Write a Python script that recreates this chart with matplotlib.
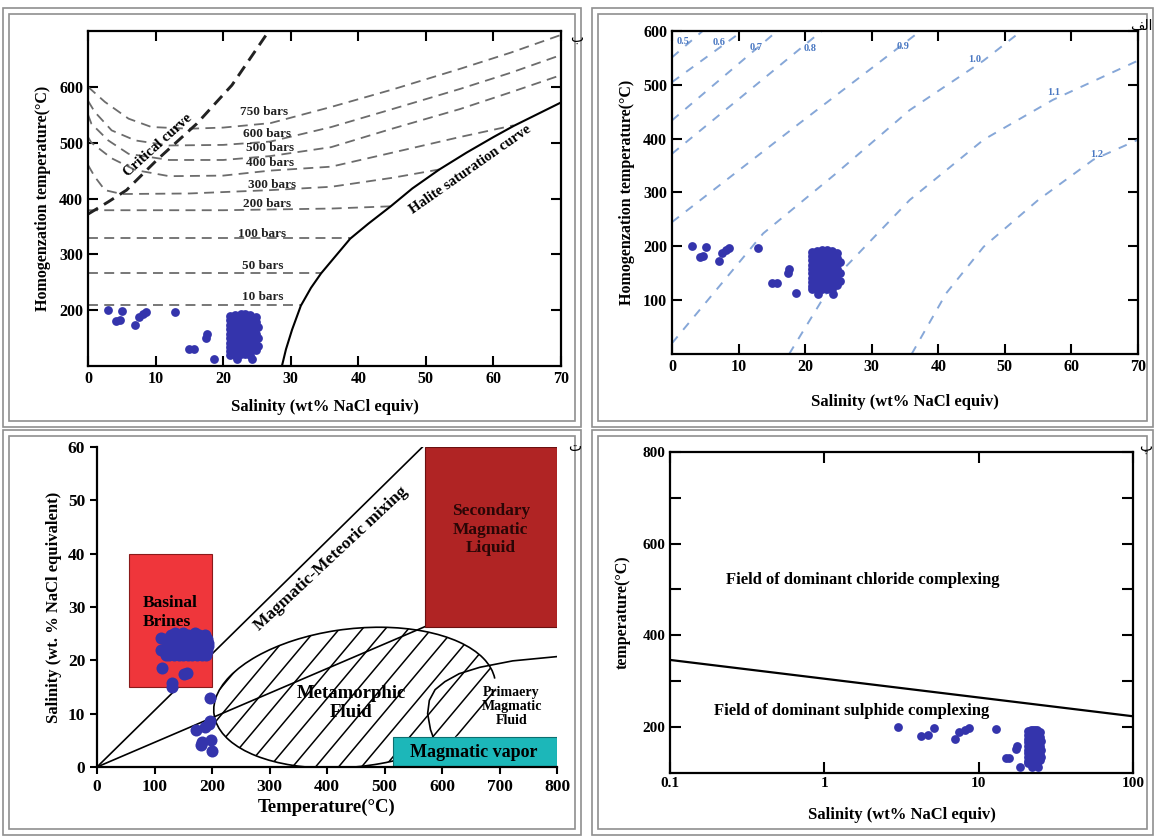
import matplotlib
matplotlib.use("Agg")
import matplotlib.pyplot as plt
import numpy as np
from matplotlib.patches import Rectangle, Ellipse, Arc

W, H = 1155, 838
plt.rcParams['font.family'] = ['Liberation Serif', 'DejaVu Sans']
plt.rcParams['font.weight'] = 'bold'
plt.rcParams['axes.labelweight'] = 'bold'
plt.rcParams['axes.linewidth'] = 1.6

DOT = '#3434ac'

# fluid inclusion data: salinity (wt% NaCl eq) and homogenization temp (C)
sal_scatter = [3.0, 4.2, 4.7, 5.1, 7.0, 7.5, 8.1, 8.6, 12.9, 15.0, 15.7, 17.4, 17.6, 18.6]
th_scatter = [200, 180, 182, 198, 173, 188, 194, 197, 196, 131, 131, 151, 157, 113]

cluster = [(21.0, 190), (21.0, 182), (21.0, 174), (21.0, 166), (21.0, 158), (21.0, 150),
           (21.0, 142), (21.0, 134), (21.0, 126), (21.0, 120),
           (21.8, 192), (21.8, 184), (21.8, 176), (21.8, 168), (21.8, 160), (21.8, 152),
           (21.8, 144), (21.8, 136), (21.8, 128), (21.8, 120), (22.0, 112),
           (22.6, 193), (22.6, 185), (22.6, 177), (22.6, 169), (22.6, 161), (22.6, 153),
           (22.6, 145), (22.6, 137), (22.6, 129), (22.6, 121),
           (23.3, 193), (23.3, 185), (23.3, 177), (23.3, 169), (23.3, 161), (23.3, 153),
           (23.3, 145), (23.3, 137), (23.3, 129), (23.3, 121),
           (24.0, 192), (24.0, 184), (24.0, 176), (24.0, 168), (24.0, 160), (24.0, 152),
           (24.0, 144), (24.0, 136), (24.0, 128), (24.0, 120), (24.2, 112),
           (24.8, 188), (24.8, 178), (24.8, 168), (24.8, 158), (24.8, 148), (24.8, 138),
           (24.8, 128), (25.2, 170), (25.2, 150), (25.2, 135)]
sal_all = sal_scatter + [c[0] for c in cluster]
th_all = th_scatter + [c[1] for c in cluster]

# panel b: isobars, critical curve, halite saturation
bar750_x = [0, 2.5, 6, 9.4, 15, 20, 27, 36, 45, 55, 62.5, 70]
bar750_y = [600, 573, 543, 528, 525, 527, 535, 564, 595, 632, 661, 693]
bar600_x = [0, 1, 3.5, 7, 12, 20, 27, 36, 45, 55, 62.5, 70]
bar600_y = [575, 555, 522, 504, 495, 496, 502, 528, 560, 596, 625, 657]
bar500_x = [0, 0.5, 3, 6, 12, 20, 27, 36, 45, 55, 62.5, 70]
bar500_y = [550, 534, 504, 480, 469, 469, 476, 492, 525, 560, 590, 621]
bar400_x = [0, 0.5, 3.5, 7, 12, 20, 27, 36, 45, 55, 63]
bar400_y = [510, 500, 472, 451, 440, 441, 450, 457, 482, 510, 531]
bar300_x = [0, 1, 2.5, 5, 15, 27, 36, 45, 52]
bar300_y = [460, 439, 415, 408, 409, 415, 421, 437, 452]
bar200_x = [0, 20, 36, 44.8]
bar200_y = [379, 379, 382, 386]
bar100_x = [0, 38.8]
bar100_y = [329, 329]
bar50_x = [0, 34.5]
bar50_y = [267, 267]
bar10_x = [0, 31.5]
bar10_y = [209, 209]
crit_x = [0, 3, 5.7, 10.2, 16.1, 21.3, 26.2, 26.8]
crit_y = [372, 394, 415, 469, 534, 603, 690, 700]
halite_x = [28.7, 29.3, 30.2, 31.5, 33, 34.5, 36.3, 38.8, 41.5, 44.8, 48, 52, 56, 60, 63, 66.5, 70]
halite_y = [100, 130, 165, 208, 240, 266, 292, 328, 355, 386, 418, 452, 482, 510, 530, 551, 572]

# panel alef: density isochores (g/cm3)
d05_x, d05_y = [0, 4.6], [551, 600]
d06_x, d06_y = [0, 10.6], [505, 600]
d07_x, d07_y = [0, 15.8], [434, 600]
d08_x, d08_y = [0, 22.5], [372, 600]
d09_x, d09_y = [0, 19.2, 37.3], [245, 429, 600]
d10_x, d10_y = [0, 13.7, 24.7, 35.7, 46.8, 52.5], [20, 224, 336, 453, 545, 600]
d11_x, d11_y = [17.6, 24.7, 35.7, 46.8, 57.2, 70], [0, 144, 286, 398, 472, 545]
d12_x, d12_y = [36, 41.2, 46.8, 55, 63.3, 70], [0, 113, 199, 286, 361, 398]

# panel t: fields (temperature C, salinity wt%)
mix_upper_x, mix_upper_y = [0, 566], [0, 60]
mix_lower_x, mix_lower_y = [0, 570], [0, 26.3]
basinal = [55, 15, 145, 25]          # x, y, width, height
secondary = [570, 26.3, 230, 33.7]
vapor = [515, 0, 285, 5.6]
meta_center, meta_w, meta_h = (448, 13), 490, 26
prim_x = [590, 580, 575, 578, 588, 605, 630, 666, 723, 800]
prim_y = [4, 7, 10, 12.5, 14.5, 16, 17.5, 18.7, 19.9, 20.7]

# panel p: chloride / sulphide boundary
bound_x = [0.1, 100]
bound_y = [346, 223]

fig = plt.figure(figsize=(W / 100, H / 100), dpi=100)


def frame(x0, y0, x1, y1):
    for d in (0, 6):
        fig.add_artist(Rectangle(((x0 + d) / W, 1 - (y1 - d) / H),
                                 (x1 - x0 - 2 * d) / W, (y1 - y0 - 2 * d) / H,
                                 transform=fig.transFigure, fill=False,
                                 ec='#8f8f8f', lw=1.2))


def axbox(x0, y0, x1, y1):
    return fig.add_axes([x0 / W, 1 - y1 / H, (x1 - x0) / W, (y1 - y0) / H])


frame(3, 8, 581, 427)
frame(592, 8, 1153, 427)
frame(3, 430, 581, 835)
frame(592, 430, 1153, 835)

# ---------------- panel b (top left)
ax1 = axbox(88, 31, 561, 366)
gray = '#6c6c6c'
for xs, ys in [(bar750_x, bar750_y), (bar600_x, bar600_y), (bar500_x, bar500_y),
               (bar400_x, bar400_y), (bar300_x, bar300_y), (bar200_x, bar200_y),
               (bar100_x, bar100_y), (bar50_x, bar50_y), (bar10_x, bar10_y)]:
    ax1.plot(xs, ys, color=gray, lw=1.3, dashes=(5.5, 3.5))
ax1.plot(crit_x, crit_y, color='#222222', lw=2.1, dashes=(4, 2.4))
ax1.plot(halite_x, halite_y, color='black', lw=1.5)
for lab, lx, ly in [('750 bars', 26, 555), ('600 bars', 26.5, 516), ('500 bars', 27, 490),
                    ('400 bars', 27, 463), ('300 bars', 27.3, 424), ('200 bars', 26.5, 391),
                    ('100 bars', 25.8, 337), ('50 bars', 25.8, 280), ('10 bars', 25.8, 224)]:
    ax1.text(lx, ly, lab, fontsize=9.5, ha='center', va='center', color='#222222')
ax1.text(10.4, 496, 'Critical curve', rotation=42, fontsize=10.5, ha='center', va='center')
ax1.text(56.6, 451, 'Halite saturation curve', rotation=35, fontsize=10.5,
         ha='center', va='center')
ax1.scatter(sal_all, th_all, s=40, color=DOT, lw=0, zorder=3)
ax1.set_xlim(0, 70)
ax1.set_ylim(100, 700)
ax1.set_xticks(range(0, 71, 10))
ax1.set_yticks(range(200, 601, 100))
ax1.tick_params(direction='in', length=7, width=1.5, top=True, right=True, labelsize=11.5)
ax1.set_xlabel('Salinity (wt% NaCl equiv)', fontsize=12, labelpad=9)
ax1.set_ylabel('Homogenzation temperature(°C)', fontsize=11.5, labelpad=6)

# ---------------- panel alef (top right)
ax2 = axbox(672, 31, 1138, 354)
blue = '#86a7d8'
for xs, ys in [(d05_x, d05_y), (d06_x, d06_y), (d07_x, d07_y), (d08_x, d08_y),
               (d09_x, d09_y), (d10_x, d10_y), (d11_x, d11_y), (d12_x, d12_y)]:
    ax2.plot(xs, ys, color=blue, lw=1.4, dashes=(4.5, 4.5))
for lab, lx, ly in [('0.5', 1.7, 581), ('0.6', 7, 578), ('0.7', 12.7, 569), ('0.8', 20.7, 567),
                    ('0.9', 34.7, 572), ('1.0', 45.5, 547), ('1.1', 57.3, 485), ('1.2', 63.8, 370)]:
    ax2.text(lx, ly, lab, fontsize=7.5, color='#4a78c2', ha='center', va='center')
ax2.scatter(sal_all, th_all, s=40, color=DOT, lw=0, zorder=3)
ax2.set_xlim(0, 70)
ax2.set_ylim(0, 600)
ax2.set_xticks(range(0, 71, 10))
ax2.set_yticks(range(100, 601, 100))
ax2.tick_params(direction='in', length=7, width=1.5, top=True, right=True, labelsize=11.5)
ax2.set_xlabel('Salinity (wt% NaCl equiv)', fontsize=12, labelpad=14)
ax2.set_ylabel('Homogenzation temperature(°C)', fontsize=11.5, labelpad=6)

# ---------------- panel t (bottom left)
ax3 = axbox(97, 447, 557, 767)
ax3.plot(mix_upper_x, mix_upper_y, color='black', lw=1.2, zorder=1)
ax3.plot(mix_lower_x, mix_lower_y, color='black', lw=1.2, zorder=1)
ell = Ellipse(meta_center, meta_w, meta_h, angle=0.54, fill=False, lw=0)
ax3.add_patch(ell)
ax3.add_patch(Arc(meta_center, meta_w, meta_h, angle=0.54, theta1=0.3, theta2=354.5,
                  color='black', lw=1.2, zorder=1))
k = np.tan(np.deg2rad(50)) * (460 / 800) / (320 / 60)
for c in np.arange(-60, 760, 40):
    ln, = ax3.plot([c, c + 260], [0, 260 * k], color='black', lw=1.1, zorder=1)
    ln.set_clip_path(ell)
ax3.plot(prim_x, prim_y, color='black', lw=1.2, zorder=1)
ax3.add_patch(Rectangle(basinal[:2], basinal[2], basinal[3], fc='#ef363b', ec='#8a1a1a',
                        lw=0.8, zorder=2))
ax3.add_patch(Rectangle(secondary[:2], secondary[2], secondary[3], fc='#b02424',
                        ec='#6a1010', lw=0.8, zorder=2))
ax3.add_patch(Rectangle(vapor[:2], vapor[2], vapor[3], fc='#1cb7b9', ec='#0d6f70',
                        lw=0.8, zorder=2))
ax3.scatter(th_all, sal_all, s=75, color=DOT, lw=0, zorder=3)
ax3.text(80, 29, 'Basinal\nBrines', fontsize=12.5, ha='left', va='center', zorder=4,
         linespacing=1.25)
ax3.text(685, 44.5, 'Secondary\nMagmatic\nLiquid', fontsize=12.5, ha='center', va='center',
         color='#2a0606', zorder=4, linespacing=1.2)
ax3.text(442, 12, 'Metamorphic\nFluid', fontsize=13.5, ha='center', va='center', zorder=4,
         linespacing=1.15)
ax3.text(721, 11.3, 'Primaery\nMagmatic\nFluid', fontsize=10, ha='center', va='center',
         zorder=4, linespacing=1.1)
ax3.text(655, 2.7, 'Magmatic vapor', fontsize=13, ha='center', va='center', zorder=4)
ax3.text(407, 39, 'Magmatic-Meteoric mixing', fontsize=12.5, rotation=43,
         rotation_mode='anchor', ha='center', va='center', zorder=4)
ax3.set_xlim(0, 800)
ax3.set_ylim(0, 60)
ax3.spines['top'].set_visible(False)
ax3.spines['right'].set_visible(False)
ax3.set_xticks(range(0, 801, 100))
ax3.set_yticks(range(0, 61, 10))
ax3.tick_params(direction='out', length=5, width=1.5, labelsize=12.5)
ax3.set_xlabel('Temperature(°C)', fontsize=13.5, labelpad=3)
ax3.set_ylabel('Salinity (wt. % NaCl equivalent)', fontsize=12, labelpad=4)

# ---------------- panel p (bottom right)
ax4 = axbox(670, 452, 1133, 772.6)
ax4.set_xscale('log')
ax4.plot(bound_x, bound_y, color='black', lw=1.6)
ax4.scatter(sal_all, th_all, s=40, color=DOT, lw=0, zorder=3)
ax4.text(1.78, 521, 'Field of dominant chloride complexing', fontsize=12,
         ha='center', va='center')
ax4.text(1.51, 235, 'Field of dominant sulphide complexing', fontsize=12,
         ha='center', va='center')
ax4.set_xlim(0.1, 100)
ax4.set_ylim(100, 800)
ax4.set_xticks([0.1, 1, 10, 100])
ax4.set_xticklabels(['0.1', '1', '10', '100'])
ax4.xaxis.set_minor_locator(matplotlib.ticker.NullLocator())
ax4.set_yticks([200, 400, 600, 800])
ax4.set_yticks([300, 500, 700], minor=True)
ax4.tick_params(which='both', direction='in', length=8, width=1.5, top=True, right=True,
                labelsize=11)
ax4.set_xlabel('Salinity (wt% NaCl equiv)', fontsize=12, labelpad=12)
ax4.set_ylabel('temperature(°C)', fontsize=11.5, labelpad=8)

# panel letters
ar = dict(family=['DejaVu Sans'], fontsize=10, fontweight='normal', ha='center', va='center')
fig.text(577 / W, 1 - 38 / H, 'ب', **ar)
fig.text(1141 / W, 1 - 26 / H, 'ﻒﻟا', **ar)
fig.text(575 / W, 1 - 447 / H, 'ت', **ar)
fig.text(1146 / W, 1 - 447 / H, 'پ', **ar)

fig.savefig('out.png', dpi=100)
